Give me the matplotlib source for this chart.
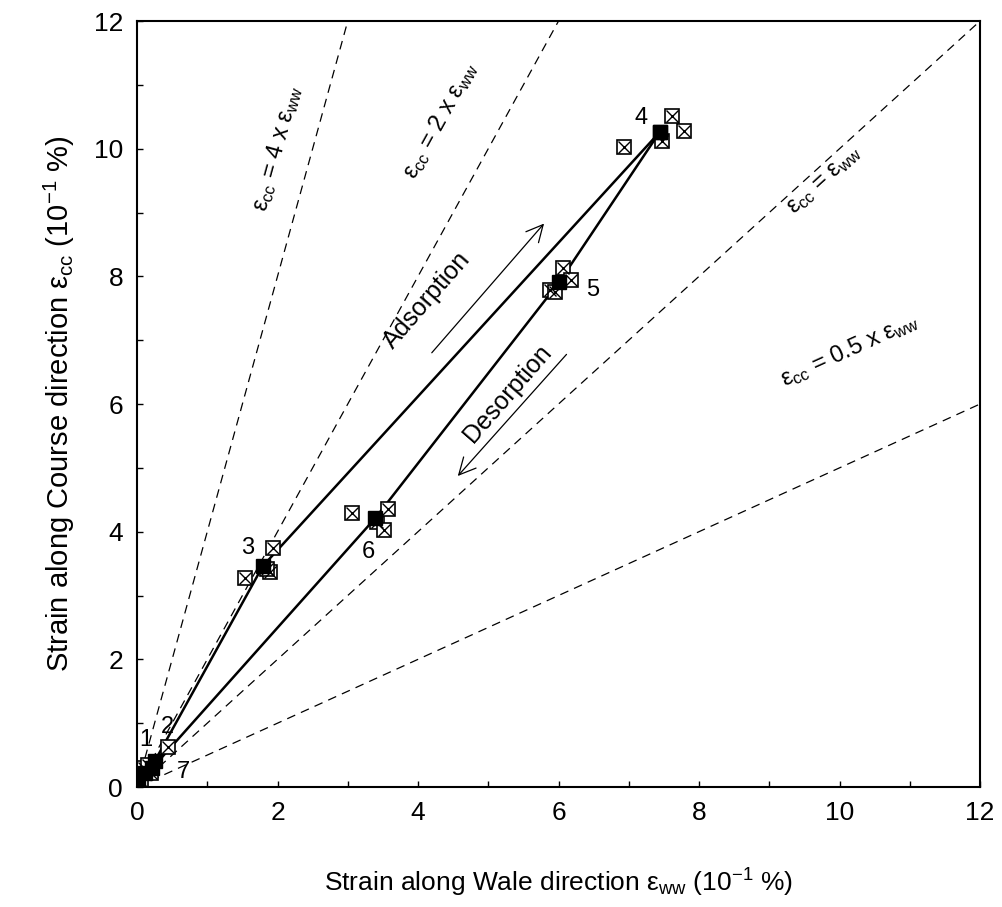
import matplotlib
matplotlib.use('Agg')
from matplotlib import pyplot as plt
import numpy as np

plt.rcParams['font.family'] = ['Liberation Sans', 'DejaVu Sans']
plt.rcParams['mathtext.fontset'] = 'custom'
plt.rcParams['mathtext.rm'] = 'Liberation Sans'
plt.rcParams['mathtext.it'] = 'Liberation Sans'

# mean points, adsorption path 1-2-3-4 and desorption path 4-5-6-7
ads_x = [0.02, 0.12, 0.25, 1.79, 7.44]
ads_y = [0.05, 0.22, 0.40, 3.46, 10.26]
des_x = [7.44, 6.01, 3.39, 0.22]
des_y = [10.26, 7.91, 4.21, 0.30]

# individual specimens
spec_x = [0.10, 0.20, 0.44, 0.05, 0.15,
          1.54, 1.89, 1.94, 1.85,
          6.93, 7.47, 7.62, 7.79,
          5.88, 5.95, 6.07, 6.18,
          3.06, 3.42, 3.52, 3.57]
spec_y = [0.30, 0.22, 0.62, 0.10, 0.35,
          3.27, 3.37, 3.74, 3.42,
          10.03, 10.12, 10.51, 10.28,
          7.79, 7.76, 8.13, 7.94,
          4.29, 4.15, 4.03, 4.36]

labels = ['1', '2', '3', '4', '5', '6', '7']
label_x = [0.13, 0.43, 1.58, 7.17, 6.48, 3.30, 0.66]
label_y = [0.74, 0.94, 3.74, 10.48, 7.79, 3.68, 0.24]

ref_k = [4, 2, 1, 0.5]
ref_txt = [r'$\varepsilon_{cc}$ = 4 x $\varepsilon_{ww}$',
           r'$\varepsilon_{cc}$ = 2 x $\varepsilon_{ww}$',
           r'$\varepsilon_{cc}$ = $\varepsilon_{ww}$',
           r'$\varepsilon_{cc}$ = 0.5 x $\varepsilon_{ww}$']
ref_tx = [1.99, 4.31, 9.79, 10.15]
ref_ty = [10.01, 10.45, 9.51, 6.85]

fig = plt.figure(figsize=(10.03, 9.07), dpi=100)
ax = fig.add_axes([0.1366, 0.1323, 0.8405, 0.8445])

xx = np.array([0, 12])
for k in ref_k:
    ax.plot(xx, k * xx, 'k--', lw=0.9, dashes=(7, 5))

ax.plot(ads_x, ads_y, 'k-', lw=1.8)
ax.plot(des_x, des_y, 'k-', lw=1.8)

ax.plot(spec_x, spec_y, 's', ms=10, mfc='white', mec='black', mew=1.2, ls='none')
ax.plot(spec_x, spec_y, 'x', ms=8, mec='black', mew=1.0, ls='none')

ax.plot(ads_x + des_x, ads_y + des_y, 's', ms=10, color='black', ls='none')

for t, x, y in zip(labels, label_x, label_y):
    ax.text(x, y, t, fontsize=17, ha='center', va='center', zorder=10)

# rotate texts along reference lines (pixel slope)
sx = 843 / 12.0
sy = 766 / 12.0
for k, t, x, y in zip(ref_k, ref_txt, ref_tx, ref_ty):
    ang = np.degrees(np.arctan(k * sy / sx))
    ax.text(x, y, t, fontsize=17, rotation=ang, ha='center', va='center',
            rotation_mode='anchor')

# arrows
ax.annotate('', xy=(5.82, 8.86), xytext=(4.17, 6.77),
            arrowprops=dict(arrowstyle='->', lw=0.9, mutation_scale=30, color='black'))
ax.annotate('', xy=(4.54, 4.84), xytext=(6.14, 6.81),
            arrowprops=dict(arrowstyle='->', lw=0.9, mutation_scale=30, color='black'))
ang_a = np.degrees(np.arctan((8.86 - 6.77) * sy / ((5.82 - 4.17) * sx)))
ax.text(4.13, 7.63, 'Adsorption', fontsize=18, rotation=ang_a, ha='center', va='center',
        rotation_mode='anchor')
ax.text(5.27, 6.17, 'Desorption', fontsize=18, rotation=ang_a, ha='center', va='center',
        rotation_mode='anchor')

ax.set_xlim(0, 12)
ax.set_ylim(0, 12)
ax.set_xticks(np.arange(0, 13, 2))
ax.set_yticks(np.arange(0, 13, 2))
ax.set_xticks(np.arange(1, 12, 2), minor=True)
ax.set_yticks(np.arange(1, 12, 2), minor=True)
ax.tick_params(which='both', direction='in', length=4, width=1, labelsize=19, pad=10)
for s in ax.spines.values():
    s.set_linewidth(1.5)

ax.set_xlabel(r'Strain along Wale direction $\varepsilon_{ww}$ (10$^{-1}$ %)', fontsize=19, labelpad=30)
ax.set_ylabel(r'Strain along Course direction $\varepsilon_{cc}$ (10$^{-1}$ %)', fontsize=21, labelpad=12)

fig.savefig('out.png', dpi=100)
